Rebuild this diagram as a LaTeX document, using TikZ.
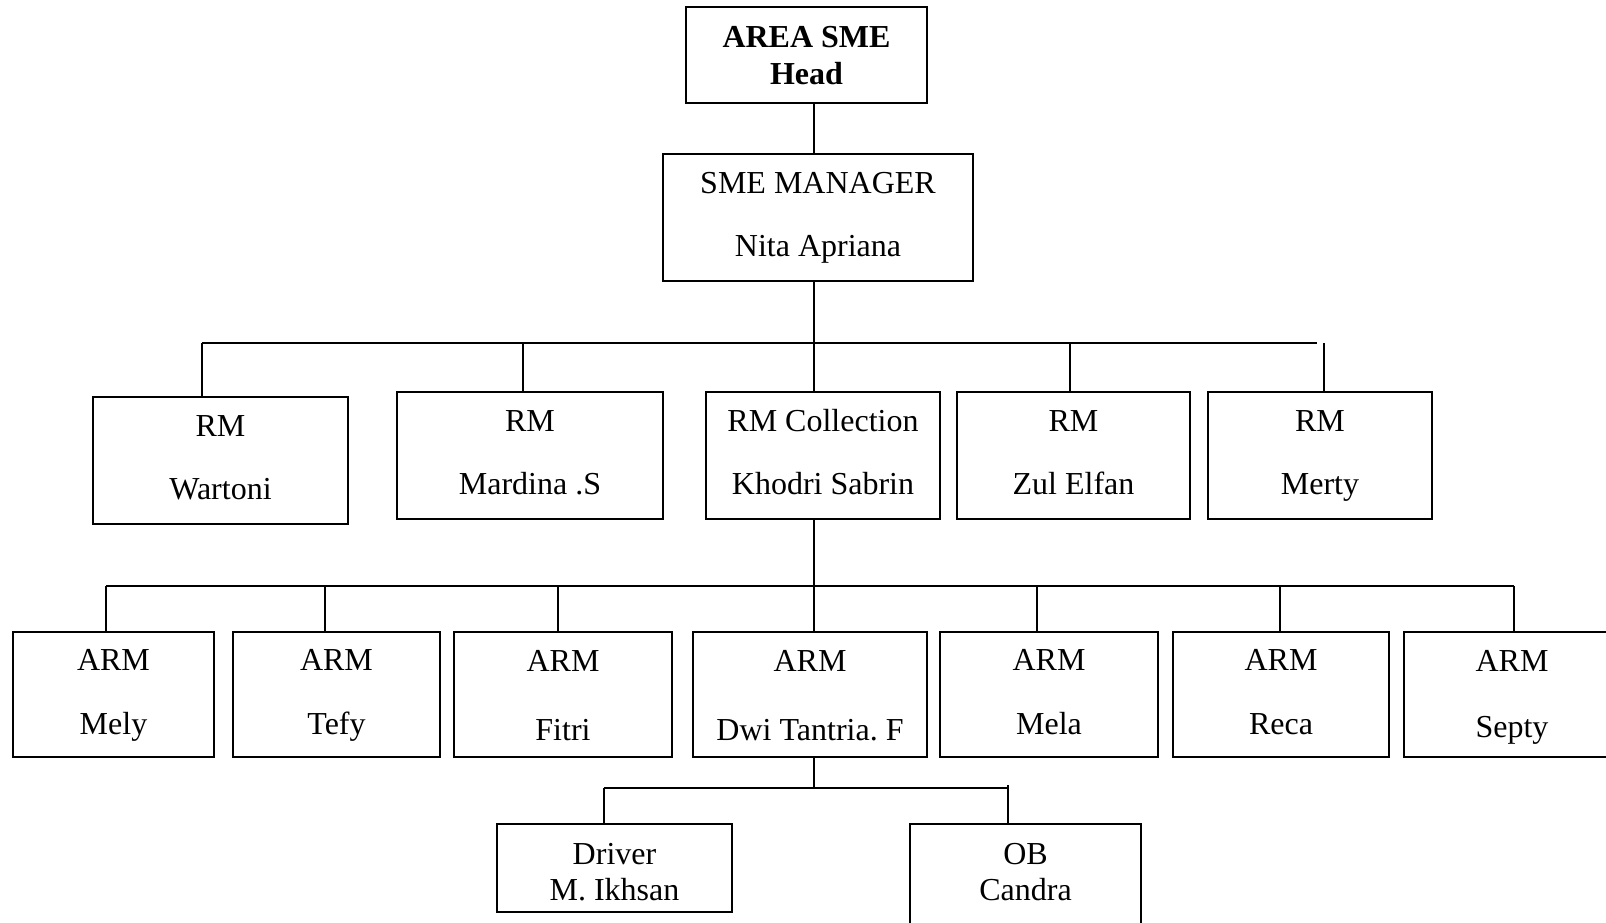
\documentclass[tikz,border=0pt]{standalone}
\usepackage{fontspec}
\setmainfont{Liberation Serif}
\frenchspacing
\begin{document}
\begin{tikzpicture}[x=1pt, y=-1pt, line width=1.3pt]
  \tikzstyle{box}=[draw, align=center, inner sep=0pt, text depth=0pt,
    font=\fontsize{32}{36}\selectfont]
  \tikzstyle{arm}=[box, minimum height=125pt, text height=80pt]
  \tikzstyle{rm}=[box, minimum height=127pt, text height=77pt]
  \useasboundingbox (0,0) rectangle (1606,923);
  % top
  \node[box, font=\fontsize{32}{37}\selectfont\bfseries, text height=60pt,
    minimum width=241pt, minimum height=96pt] (head) at (806.5,55) {AREA SME\\Head};
  \node[rm, minimum width=310pt] (mgr) at (818,217.5) {SME MANAGER\\[27pt]Nita Apriana};
  % RM row
  \node[rm, minimum width=255pt] (wartoni) at (220.5,460.5) {RM\\[27pt]Wartoni};
  \node[rm, minimum width=266pt] (mardina) at (530,455.5) {RM\\[27pt]Mardina .S};
  \node[rm, minimum width=234pt] (collect) at (823,455.5) {RM Collection\\[27pt]Khodri Sabrin};
  \node[rm, minimum width=233pt] (zul) at (1073.5,455.5) {RM\\[27pt]Zul Elfan};
  \node[rm, minimum width=224pt] (merty) at (1320,455.5) {RM\\[27pt]Merty};
  % ARM row
  \node[arm, minimum width=201pt] (mely) at (113.5,694.5) {ARM\\[28pt]Mely};
  \node[arm, minimum width=207pt] (tefy) at (336.5,694.5) {ARM\\[28pt]Tefy};
  \node[arm, minimum width=218pt, text height=91pt] (fitri) at (563,694.5) {ARM\\[33pt]Fitri};
  \node[arm, minimum width=234pt, text height=91pt] (dwi) at (810,694.5) {ARM\\[33pt]Dwi Tantria. F};
  \node[arm, minimum width=218pt] (mela) at (1049,694.5) {ARM\\[28pt]Mela};
  \node[arm, minimum width=216pt] (reca) at (1281,694.5) {ARM\\[28pt]Reca};
  \node[arm, minimum width=216pt, text height=86pt] (septy) at (1512,694.5) {ARM\\[30pt]Septy};
  % bottom
  \node[box, text height=64pt, minimum width=235pt, minimum height=88pt] (driver)
    at (614.5,868) {Driver\\M. Ikhsan};
  \node[box, text height=51pt, minimum width=231pt, minimum height=101pt] (ob)
    at (1025.5,874.5) {OB\\Candra};
  % connectors
  \coordinate (spine) at (814,0);
  \draw (head.south -| spine) -- (mgr.north -| spine);
  \coordinate (rmL) at (202,343);
  \coordinate (rmR) at (1317,343);
  \draw (mgr.south -| spine) -- (rmL -| spine);
  \draw (rmL) -- (rmR);
  \foreach \n/\x in {wartoni/202, mardina/523, collect/814, zul/1070, merty/1324} {
    \coordinate (t\n) at (\x,343);
    \draw (t\n) -- (t\n |- \n.north);
  }
  \coordinate (armL) at (106,586);
  \coordinate (armR) at (1514,586);
  \draw (collect.south -| spine) -- (armL -| spine);
  \draw (armL) -- (armR);
  \foreach \n/\x in {mely/106, tefy/325, fitri/558, dwi/814, mela/1037, reca/1280, septy/1514} {
    \coordinate (t\n) at (\x,586);
    \draw (t\n) -- (t\n |- \n.north);
  }
  \coordinate (stL) at (604,788);
  \coordinate (stR) at (1008,788);
  \draw (dwi.south -| spine) -- (stL -| spine);
  \draw (stL) -- (stR);
  \draw (stL) -- (stL |- driver.north);
  \draw (1008,785) coordinate (tob) -- (tob |- ob.north);
\end{tikzpicture}
\end{document}
